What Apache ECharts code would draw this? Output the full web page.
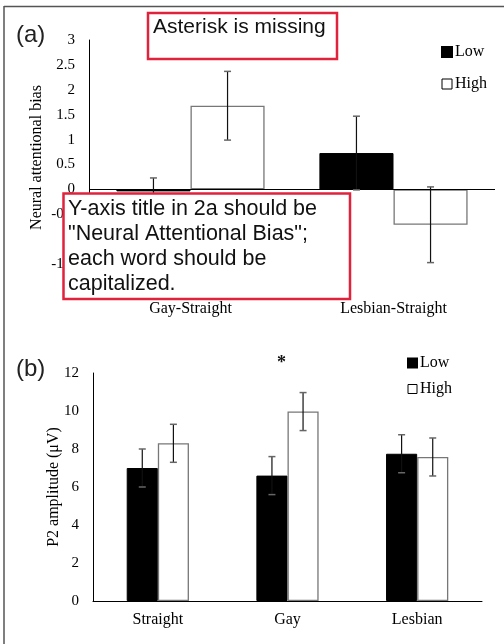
<!DOCTYPE html>
<html><head><meta charset="utf-8">
<script src="https://cdn.jsdelivr.net/npm/echarts@6/dist/echarts.min.js"></script>
<style>html,body{margin:0;padding:0;background:#fff}#c{width:504px;height:644px}</style>
</head><body><div id="c"></div>
<script>
// ---- data ----
const catA = ['Gay-Straight', 'Lesbian-Straight'];
const lowA = [-0.04, 0.73];
const lowAErr = [0.27, 0.74];
const highA = [1.68, -0.71];
const highAErr = [0.69, 0.76];

const catB = ['Straight', 'Gay', 'Lesbian'];
const lowB = [7.0, 6.6, 7.75];
const lowBErr = [1.0, 1.0, 1.0];
const highB = [8.3, 9.97, 7.58];
const highBErr = [1.0, 1.0, 1.0];

const seriesNames = ['Low', 'High'];
const yAxisA = { min: -2, max: 3, interval: 0.5 };
const yAxisB = { min: 0, max: 12, interval: 2 };
const panelLabels = ['(a)', '(b)'];
const yTitleA = 'Neural attentional bias';
const yTitleB = 'P2 amplitude (\u03bcV)';
const note1 = 'Asterisk is missing';
const note2 = ['Y-axis title in 2a should be', '"Neural Attentional Bias";', 'each word should be', 'capitalized.'];
const sigMark = { category: 'Gay', value: 12.7, text: '*' };

// ---- styling ----
const SERIF = '"Liberation Serif","Times New Roman",serif';
const SANS = '"Liberation Sans",Arial,sans-serif';
const RED = '#e0223c';
const gapA = 0.27, gapB = 0.52;

function errSeries(name, gi, cats, vals, errs, side, gap) {
  return {
    type: 'custom', name: name + ' err', xAxisIndex: gi, yAxisIndex: gi, silent: true, z: 5,
    data: cats.map((c, i) => [i, vals[i] - errs[i], vals[i] + errs[i]]),
    renderItem: function (params, api) {
      const band = api.size([1, 0])[0];
      const off = side * band * (1 - gap) / 4;
      const lo = api.coord([api.value(0), api.value(1)]);
      const hi = api.coord([api.value(0), api.value(2)]);
      const x = lo[0] + off, w = 3.5;
      const s = { stroke: '#111', lineWidth: 1.2 };
      const c = { stroke: '#666', lineWidth: 1.5 };
      return { type: 'group', children: [
        { type: 'line', shape: { x1: x, y1: lo[1], x2: x, y2: hi[1] }, style: s },
        { type: 'line', shape: { x1: x - w, y1: lo[1], x2: x + w, y2: lo[1] }, style: c },
        { type: 'line', shape: { x1: x - w, y1: hi[1], x2: x + w, y2: hi[1] }, style: c }
      ]};
    }
  };
}

const lowStyle = { color: '#000', borderColor: '#000', borderWidth: 1 };
const highStyle = { color: '#fff', borderColor: '#777', borderWidth: 1.3 };

const chart = echarts.init(document.getElementById('c'));
const option = {
  backgroundColor: '#fff',
  animation: false,
  grid: [
    { left: 89, top: 40, width: 406, height: 249 },
    { left: 93, top: 373, width: 389, height: 228 }
  ],
  legend: [
    { orient: 'vertical', left: 441, top: 44, padding: 0, itemWidth: 10, itemHeight: 10, itemGap: 16, icon: 'rect',
      textStyle: { fontFamily: SERIF, fontSize: 16, color: '#000', padding: [0, 0, 0, -2] },
      data: [{ name: 'Low', itemStyle: { color: '#000' } },
             { name: 'High', itemStyle: { color: '#fff', borderColor: '#000', borderWidth: 1 } }] },
    { orient: 'vertical', left: 407, top: 355, padding: 0, itemWidth: 9, itemHeight: 9, itemGap: 10, icon: 'rect',
      textStyle: { fontFamily: SERIF, fontSize: 16, color: '#000', padding: [0, 0, 0, -2] },
      data: [{ name: 'Low', itemStyle: { color: '#000' } },
             { name: 'High', itemStyle: { color: '#fff', borderColor: '#000', borderWidth: 1 } }] }
  ],
  xAxis: [
    { type: 'category', gridIndex: 0, data: catA, axisLine: { show: false }, axisTick: { show: false },
      axisLabel: { fontFamily: SERIF, fontSize: 16, color: '#000', margin: 12 } },
    { type: 'category', gridIndex: 1, data: catB, axisLine: { lineStyle: { color: '#000', width: 1 } }, axisTick: { show: false },
      axisLabel: { fontFamily: SERIF, fontSize: 16, color: '#000', margin: 11 } }
  ],
  yAxis: [
    { type: 'value', gridIndex: 0, min: yAxisA.min, max: yAxisA.max, interval: yAxisA.interval,
      axisLine: { show: true, lineStyle: { color: '#000', width: 1 } }, axisTick: { show: false }, splitLine: { show: false },
      axisLabel: { fontFamily: SERIF, fontSize: 15, color: '#000', margin: 14 },
      name: yTitleA, nameLocation: 'middle', nameRotate: 90, nameGap: 44, nameMoveOverlap: false,
      nameTextStyle: { fontFamily: SERIF, fontSize: 16, color: '#000', padding: [0, 0, 0, 14] } },
    { type: 'value', gridIndex: 1, min: yAxisB.min, max: yAxisB.max, interval: yAxisB.interval,
      axisLine: { show: true, lineStyle: { color: '#000', width: 1 } }, axisTick: { show: false }, splitLine: { show: false },
      axisLabel: { fontFamily: SERIF, fontSize: 15, color: '#000', margin: 14 },
      name: yTitleB, nameLocation: 'middle', nameRotate: 90, nameGap: 31, nameMoveOverlap: false,
      nameTextStyle: { fontFamily: SERIF, fontSize: 16, color: '#000' } }
  ],
  series: [
    { type: 'bar', name: seriesNames[0], xAxisIndex: 0, yAxisIndex: 0, data: lowA, itemStyle: lowStyle,
      barGap: '0%', barCategoryGap: (gapA * 100) + '%',
      markLine: { silent: true, symbol: 'none', label: { show: false },
        lineStyle: { color: '#000', type: 'solid', width: 1 }, data: [{ yAxis: 0 }] } },
    { type: 'bar', name: seriesNames[1], xAxisIndex: 0, yAxisIndex: 0, data: highA, itemStyle: highStyle,
      barGap: '0%', barCategoryGap: (gapA * 100) + '%' },
    errSeries('Low', 0, catA, lowA, lowAErr, -1, gapA),
    errSeries('High', 0, catA, highA, highAErr, 1, gapA),
    { type: 'bar', name: seriesNames[0], xAxisIndex: 1, yAxisIndex: 1, data: lowB, itemStyle: lowStyle,
      barGap: '0%', barCategoryGap: (gapB * 100) + '%' },
    { type: 'bar', name: seriesNames[1], xAxisIndex: 1, yAxisIndex: 1, data: highB, itemStyle: highStyle,
      barGap: '0%', barCategoryGap: (gapB * 100) + '%' },
    errSeries('Low', 1, catB, lowB, lowBErr, -1, gapB),
    errSeries('High', 1, catB, highB, highBErr, 1, gapB)
  ],
  graphic: [
    { id: 'frameTop', type: 'line', z: 100, shape: { x1: 4, y1: 6.5, x2: 504, y2: 6.5 }, style: { stroke: '#555', lineWidth: 1.5 } },
    { id: 'frameLeft', type: 'line', z: 100, shape: { x1: 4, y1: 6, x2: 4, y2: 644 }, style: { stroke: '#555', lineWidth: 1.5 } },
    { id: 'labA', type: 'text', z: 100, x: 16, y: 35, style: { text: panelLabels[0], font: '24px ' + SANS, fill: '#222', verticalAlign: 'middle' } },
    { id: 'labB', type: 'text', z: 100, x: 16, y: 369, style: { text: panelLabels[1], font: '24px ' + SANS, fill: '#222', verticalAlign: 'middle' } },
    { id: 'box1', type: 'rect', z: 100, shape: { x: 148, y: 13, width: 189, height: 46 }, style: { fill: '#fff', stroke: RED, lineWidth: 2.5 } },
    { id: 'note1', type: 'text', z: 101, x: 153, y: 27.7, style: { text: note1, font: '21px ' + SANS, fill: '#111', verticalAlign: 'middle' } },
    { id: 'box2', type: 'rect', z: 100, shape: { x: 63.5, y: 193.5, width: 286.5, height: 105.5 }, style: { fill: '#fff', stroke: RED, lineWidth: 2.5 } },
    { id: 'note2', type: 'text', z: 101, x: 68, y: 196.2, style: { text: note2.join('\n'), font: '21.5px ' + SANS, lineHeight: 25, fill: '#111', verticalAlign: 'top' } }
  ]
};
chart.setOption(option);
const p = chart.convertToPixel({ xAxisIndex: 1, yAxisIndex: 1 }, [sigMark.category, sigMark.value]);
chart.setOption({ graphic: [
  { id: 'sig', type: 'text', z: 101, x: p[0] - 6, y: p[1] + 4, style: { text: sigMark.text, font: 'bold 18px ' + SERIF, fill: '#111', align: 'center', verticalAlign: 'middle' } }
]});
</script></body></html>
